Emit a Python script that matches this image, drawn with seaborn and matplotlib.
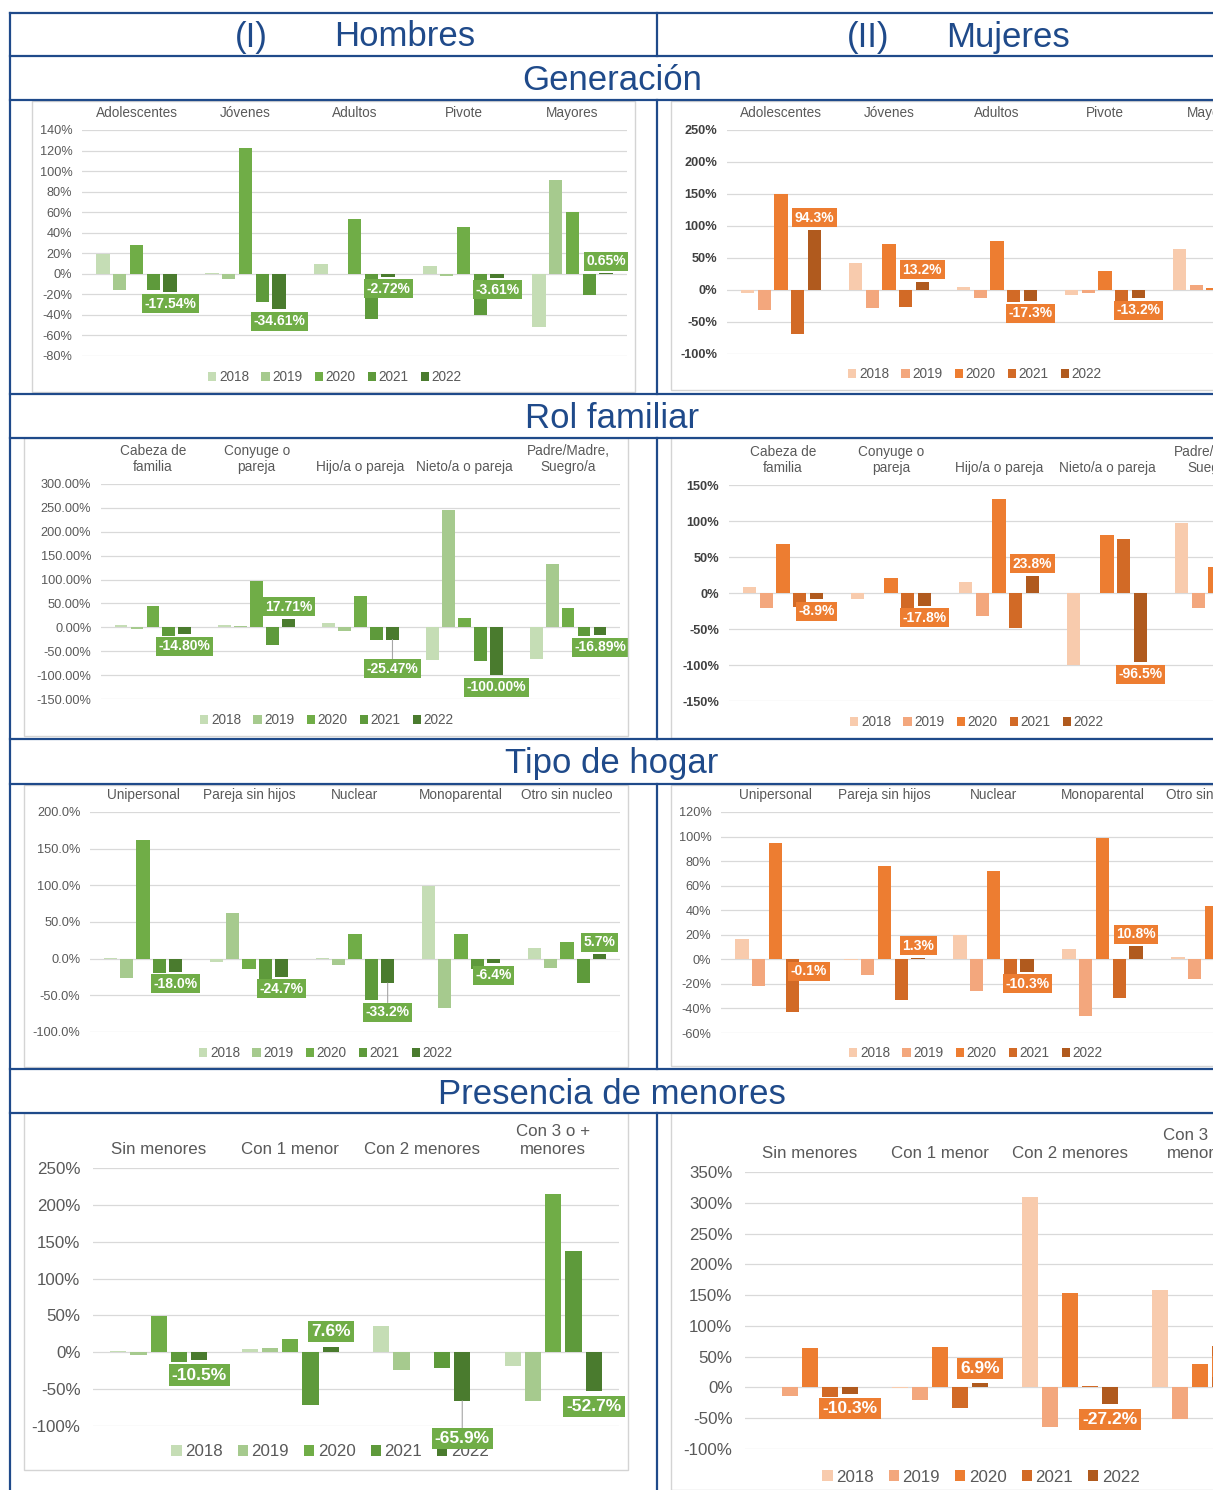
import numpy as np
import pandas as pd
import seaborn as sns
import matplotlib.pyplot as plt
from matplotlib.patches import Rectangle
from matplotlib.lines import Line2D
from matplotlib.ticker import FuncFormatter

plt.rcParams['font.family'] = ['Liberation Sans', 'DejaVu Sans']

years = ['2018', '2019', '2020', '2021', '2022']

# variacion anual por grupo, una lista por año (2018..2022)
gen_cats = ['Adolescentes', 'Jóvenes', 'Adultos', 'Pivote', 'Mayores']
gen_hombres = [
    [19, 0.5, 9.7, 7.4, -52],
    [-15.5, -5, -0.5, -2.6, 91.8],
    [28, 122.8, 53.3, 46, 60],
    [-16, -27, -43.6, -40, -21],
    [-17.54, -34.61, -2.72, -3.61, 0.65],
]
gen_mujeres = [
    [-5, 41.7, 4.7, -7.8, 63.5],
    [-31, -28.6, -13, -4, 7.3],
    [150.5, 72, 76.6, 29.7, 3.6],
    [-69, -27, -18.75, -16.7, -12],
    [94.3, 13.2, -17.3, -13.2, -6],
]

rol_cats = ['Cabeza de\nfamilia', 'Conyuge o\npareja', 'Hijo/a o pareja',
            'Nieto/a o pareja', 'Padre/Madre,\nSuegro/a']
rol_hombres = [
    [4.9, 5, 8.4, -68, -65.6],
    [-4, 3, -7.7, 246, 132.6],
    [44, 96, 65, 20, 40.5],
    [-18, -37.7, -26.5, -70.5, -18],
    [-14.80, 17.71, -25.47, -100.00, -16.89],
]
rol_mujeres = [
    [8.3, -8.3, 15.7, -100, 97],
    [-21, 0, -32.3, 0, -20.8],
    [67.9, 20.3, 130, 80.8, 35.5],
    [-20, -47, -48, 74.8, -20],
    [-8.9, -17.8, 23.8, -96.5, -15],
]

tipo_cats = ['Unipersonal', 'Pareja sin hijos', 'Nuclear', 'Monoparental', 'Otro sin nucleo']
tipo_hombres = [
    [0.3, -5, 0.5, 98.6, 14.6],
    [-26.5, 62, -8, -67.5, -12.8],
    [162, -14.6, 33.8, 34, 22.8],
    [-20, -28, -56, -14.6, -32.9],
    [-18.0, -24.7, -33.2, -6.4, 5.7],
]
tipo_mujeres = [
    [16.7, -0.5, 20, 8.5, 2],
    [-21.4, -13, -26, -46.3, -16],
    [94.5, 75.9, 72, 99, 43.5],
    [-43.3, -33, -12, -31.5, -25],
    [-0.1, 1.3, -10.3, 10.8, 5],
]

men_cats = ['Sin menores', 'Con 1 menor', 'Con 2 menores', 'Con 3 o +\nmenores']
men_hombres = [
    [2.3, 5, 35.8, -18.6],
    [-3.6, 5.4, -24, -66.6],
    [49, 18, 0.3, 214.7],
    [-13, -71.6, -21.3, 137.7],
    [-10.5, 7.6, -65.9, -52.7],
]
men_mujeres = [
    [0.3, -0.5, 308.6, 158.4],
    [-14.7, -19.6, -64.2, -51.7],
    [63.7, 65.9, 154, 38],
    [-15, -33.2, 2.7, 68],
    [-10.3, 6.9, -27.2, 10],
]

greens = ['#C5DDB5', '#A6CA8E', '#70AD47', '#5E9A3B', '#4A7B2E']
oranges = ['#F8CBAD', '#F3A77D', '#ED7D31', '#D26A26', '#B05A1E']
blue = '#1F4A8A'
grey = '#595959'

W, H = 1213, 1490
fig = plt.figure(figsize=(W / 100, H / 100), dpi=100)


def fx(x):
    return x / W


def fy(y):
    return 1 - y / H


def hline(y, x0=10, x1=W):
    fig.add_artist(Line2D([fx(x0), fx(x1)], [fy(y), fy(y)], color=blue, lw=1.6))


def vline(x, y0, y1):
    fig.add_artist(Line2D([fx(x), fx(x)], [fy(y0), fy(y1)], color=blue, lw=1.6))


def panel(values, cats, colors, p):
    x0, y0, x1, y1 = p['frame']
    fig.add_artist(Rectangle((fx(x0), fy(y1)), fx(x1 - x0), (y1 - y0) / H,
                             transform=fig.transFigure, fill=False, ec='#D4D4D4', lw=1))
    a0, b0, a1, b1 = p['plot']
    ax = fig.add_axes([fx(a0), fy(b1), fx(a1 - a0), (b1 - b0) / H])

    df = pd.DataFrame({
        'cat': [c for _ in years for c in cats],
        'year': [y for y in years for _ in cats],
        'val': [v for vals in values for v in vals],
    })
    sns.barplot(data=df, x='cat', y='val', hue='year', palette=colors, width=0.77,
                gap=0.2, saturation=1, ax=ax, errorbar=None)

    lo, hi, step = p['ylim']
    ax.set_ylim(lo, hi)
    ax.set_xlim(-0.5, len(cats) - 0.5)
    ax.set_yticks(np.arange(lo, hi + step / 2, step))
    dec = p['ydec']
    ax.yaxis.set_major_formatter(FuncFormatter(lambda v, _: f'{v:.{dec}f}%'))
    ax.yaxis.grid(True, color='#D9D9D9', lw=0.9)
    ax.set_axisbelow(True)
    for s in ax.spines.values():
        s.set_visible(False)
    ax.xaxis.tick_top()
    ax.set_xlabel('')
    ax.set_ylabel('')
    ax.tick_params(axis='x', length=0, pad=p['xpad'], labelsize=p['cfs'], labelcolor=grey)
    ax.tick_params(axis='y', length=0, pad=p['ypad'], labelsize=p['fs'],
                   labelcolor='#404040' if p['ybold'] else grey)
    if p['ybold']:
        for t in ax.get_yticklabels():
            t.set_fontweight('bold')

    handles, labels = ax.get_legend_handles_labels()
    ax.get_legend().remove()
    ax.legend(handles, labels, loc='center', bbox_to_anchor=(fx(p['leg'][0]), fy(p['leg'][1])),
              bbox_transform=fig.transFigure, ncol=5, frameon=False, fontsize=p['cfs'],
              labelcolor=grey, handlelength=0.6, handleheight=0.6, handletextpad=0.2,
              columnspacing=0.9)

    box_col = colors[2]
    for i, bar in enumerate(ax.containers[-1]):
        v = values[-1][i]
        xb = bar.get_x() + bar.get_width() / 2
        gap = p['gaps'][i]
        off = gap if v >= 0 else -gap
        arrow = dict(arrowstyle='-', color='#A6A6A6', lw=0.8, shrinkA=0, shrinkB=0) if gap > 20 else None
        ax.annotate(f'{v:.{p["ldec"]}f}%', xy=(xb, v), xytext=(0, off), textcoords='offset pixels',
                    ha='center', va='center', color='white', fontweight='bold', fontsize=p['lfs'],
                    bbox=dict(boxstyle='square,pad=0.18', fc=box_col, ec='none'),
                    arrowprops=arrow, zorder=10)
    return ax


# tabla
hline(13)
hline(56)
hline(100)
hline(394)
hline(438)
hline(739)
hline(784)
hline(1069)
hline(1113)
vline(10, 13, H)
for ya, yb in [(13, 56), (100, 394), (438, 739), (784, 1069), (1113, H)]:
    vline(657, ya, yb)

fig.text(fx(251), fy(37), '(I)', ha='center', va='center', fontsize=25, color=blue)
fig.text(fx(405), fy(37), 'Hombres', ha='center', va='center', fontsize=25, color=blue)
fig.text(fx(868), fy(37), '(II)', ha='center', va='center', fontsize=25, color=blue)
fig.text(fx(1008), fy(37), 'Mujeres', ha='center', va='center', fontsize=25, color=blue)
for txt, y in [('Generación', 80), ('Rol familiar', 418), ('Tipo de hogar', 764),
               ('Presencia de menores', 1095)]:
    fig.text(fx(612), fy(y), txt, ha='center', va='center', fontsize=25, color=blue)

small = dict(fs=9.2, cfs=9.8, lfs=10, ldec=1, xpad=7, ypad=7, ybold=False, gaps=[12] * 5)

panel(gen_hombres, gen_cats, greens, {**small, 'frame': (32, 101, 635, 392),
      'plot': (82, 130, 627, 356), 'leg': (335, 377), 'ylim': (-80, 140, 20), 'ydec': 0, 'ldec': 2})
panel(gen_mujeres, gen_cats, oranges, {**small, 'frame': (671, 101, 1280, 390),
      'plot': (727, 130, 1267, 354), 'leg': (975, 374), 'ylim': (-100, 250, 50), 'ydec': 0,
      'ybold': True})
panel(rol_hombres, rol_cats, greens, {**small, 'frame': (24, 438, 628, 736),
      'plot': (101, 484, 620, 699), 'leg': (327, 720), 'ylim': (-150, 300, 50), 'ydec': 2,
      'ldec': 2, 'gaps': [12, 12, 29, 12, 12]})
panel(rol_mujeres, rol_cats, oranges, {**small, 'frame': (671, 438, 1282, 738),
      'plot': (729, 485, 1269, 701), 'leg': (977, 722), 'ylim': (-150, 150, 50), 'ydec': 0,
      'ybold': True})
panel(tipo_hombres, tipo_cats, greens, {**small, 'frame': (24, 785, 628, 1067),
      'plot': (90, 812, 620, 1032), 'leg': (326, 1053), 'ylim': (-100, 200, 50), 'ydec': 1,
      'gaps': [12, 12, 29, 12, 12]})
panel(tipo_mujeres, tipo_cats, oranges, {**small, 'frame': (671, 785, 1282, 1066),
      'plot': (721, 812, 1266, 1033), 'leg': (976, 1053), 'ylim': (-60, 120, 20), 'ydec': 0})

big = dict(fs=12.2, cfs=12.2, lfs=12.5, ldec=1, xpad=8, ypad=9, ybold=False)
panel(men_hombres, men_cats, greens, {**big, 'frame': (24, 1113, 628, 1470),
      'plot': (93, 1168, 619, 1426), 'leg': (330, 1452), 'ylim': (-100, 250, 50), 'ydec': 0,
      'gaps': [15, 15, 38, 15]})
panel(men_mujeres, men_cats, oranges, {**big, 'frame': (671, 1113, 1290, 1490),
      'plot': (745, 1172, 1265, 1449), 'leg': (981, 1477), 'ylim': (-100, 350, 50), 'ydec': 0,
      'gaps': [15, 15, 15, 15]})

fig.savefig('out.png', dpi=100)
